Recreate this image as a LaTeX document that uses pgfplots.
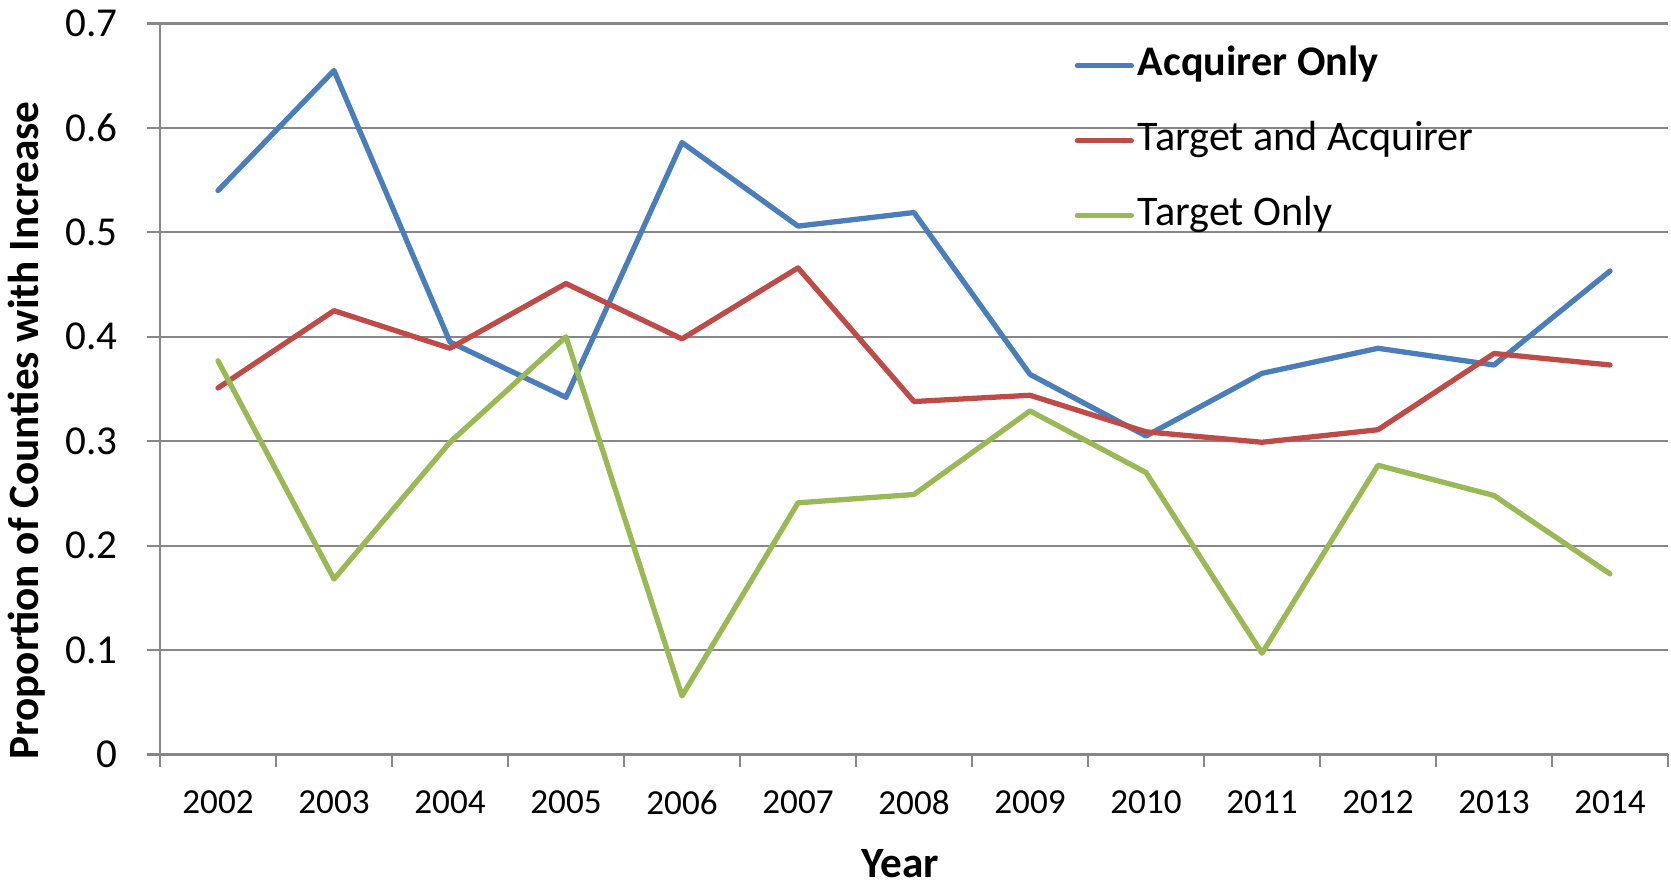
\documentclass[border=0pt]{standalone}
\usepackage{fontspec}
\setmainfont{Carlito}
\usepackage{pgfplots}
\pgfplotsset{compat=1.18}

\definecolor{acqblue}{HTML}{4A7EBB}
\definecolor{bothred}{HTML}{BE4B48}
\definecolor{tgtgreen}{HTML}{98B954}
\definecolor{axisgray}{HTML}{868686}

\begin{document}
\begin{tikzpicture}
\begin{axis}[
    width=150.8mm, height=73.1mm, scale only axis,
    xmin=-0.5, xmax=12.5, ymin=0, ymax=0.7,
    axis x line=bottom, axis y line=left,
    axis line style={-, draw=axisgray, line width=0.6pt},
    ytick={0,0.1,0.2,0.3,0.4,0.5,0.6,0.7},
    xtick={-0.5,0.5,...,12.5}, xticklabels={},
    extra x ticks={0,1,2,3,4,5,6,7,8,9,10,11,12},
    extra x tick labels={2002,2003,2004,2005,2006,2007,2008,2009,2010,2011,2012,2013,2014},
    extra x tick style={major tick length=0pt},
    tick align=outside, major tick length=1.3mm,
    tick style={draw=axisgray, line width=0.6pt},
    ymajorgrids, grid style={draw=axisgray, line width=0.6pt},
    /pgf/number format/assume math mode=true,
    yticklabel style={font=\fontsize{11.7}{14}\selectfont, inner sep=0pt, anchor=east, xshift=-2.9mm},
    xticklabel style={font=\fontsize{10}{12}\selectfont, inner sep=0pt, anchor=north, yshift=-3.55mm},
    xlabel={Year},
    ylabel={Proportion of Counties with Increase},
    label style={font=\fontsize{12.3}{14}\selectfont\bfseries, inner sep=0pt},
    xlabel style={at={(axis description cs:0.4907,-0.149)}, anchor=center},
    ylabel style={at={(axis description cs:-0.0882,0.4432)}, anchor=center},
    legend style={at={(axis description cs:0.6061,0.9706)}, anchor=north west,
        draw=none, fill=none, inner sep=0pt, row sep=3.5mm, column sep=0.4mm,
        font=\fontsize{12}{14}\selectfont,
        nodes={inner sep=0pt, text height=3mm, text depth=1mm}},
    legend cell align=left,
    legend image code/.code={\draw[#1] (0mm,0mm) -- (5.4mm,0mm);},
    every axis plot/.append style={line width=1.5pt, line join=round, line cap=round},
]

% Acquirer Only
\addplot[acqblue] coordinates {
    (0,0.540) (1,0.655) (2,0.395) (3,0.342) (4,0.586) (5,0.506) (6,0.519)
    (7,0.364) (8,0.305) (9,0.365) (10,0.389) (11,0.373) (12,0.463)
};
\addlegendentry{\textbf{Acquirer Only}}

% Target and Acquirer
\addplot[bothred] coordinates {
    (0,0.351) (1,0.425) (2,0.389) (3,0.451) (4,0.398) (5,0.466) (6,0.338)
    (7,0.344) (8,0.309) (9,0.299) (10,0.311) (11,0.384) (12,0.373)
};
\addlegendentry{Target and Acquirer}

% Target Only
\addplot[tgtgreen] coordinates {
    (0,0.377) (1,0.168) (2,0.299) (3,0.400) (4,0.056) (5,0.241) (6,0.249)
    (7,0.329) (8,0.270) (9,0.097) (10,0.277) (11,0.248) (12,0.173)
};
\addlegendentry{Target Only}

\end{axis}
\path (current axis.south west) ++(-16mm,-13.15mm) rectangle ++(167.1mm,88.6mm);
\end{tikzpicture}
\end{document}
